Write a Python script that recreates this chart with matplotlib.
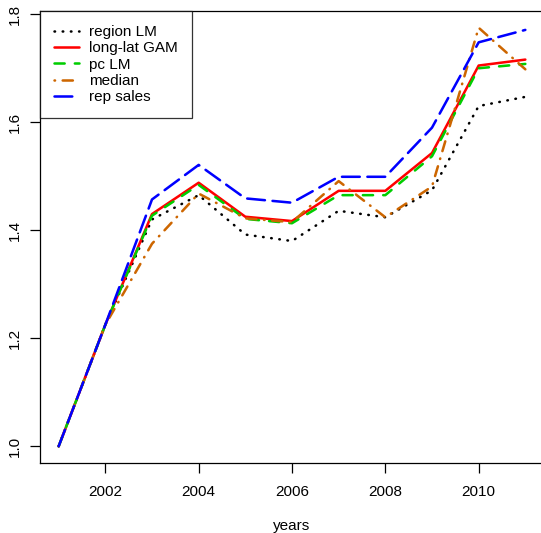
import matplotlib
matplotlib.use('Agg')
import matplotlib.pyplot as plt

plt.rcParams['font.family'] = ['Liberation Sans', 'DejaVu Sans']
plt.rcParams['lines.scale_dashes'] = False

years = [2001, 2002, 2003, 2004, 2005, 2006, 2007, 2008, 2009, 2010, 2011]
region_lm = [1.0, 1.225, 1.420, 1.465, 1.392, 1.380, 1.436, 1.424, 1.474, 1.630, 1.647]
longlat_gam = [1.0, 1.225, 1.430, 1.488, 1.425, 1.417, 1.473, 1.473, 1.543, 1.705, 1.716]
pc_lm = [1.0, 1.225, 1.427, 1.484, 1.421, 1.413, 1.465, 1.465, 1.537, 1.700, 1.708]
median = [1.0, 1.225, 1.375, 1.468, 1.422, 1.415, 1.491, 1.424, 1.481, 1.775, 1.698]
rep_sales = [1.0, 1.225, 1.457, 1.521, 1.459, 1.451, 1.499, 1.499, 1.590, 1.748, 1.771]

labels = ["region LM", "long-lat GAM", "pc LM", "median", "rep sales"]
series = [region_lm, longlat_gam, pc_lm, median, rep_sales]
colors = ["black", "#FF0000", "#00CD00", "#CD6600", "#0000FF"]

# R line types 3, 1, 2, 4, 5; one dash unit = line width
u = 1.83
styles = [(0, (0.4, 5.5)), '-', (0, (4 * u, 4 * u)),
          (0, (0.4, 5.5, 4 * u, 3 * u)), (0, (7 * u, 3 * u))]

fig = plt.figure(figsize=(5.41, 5.33), dpi=100)
ax = fig.add_axes([40/541, 70/533, 504/541, 452/533])

for vals, lab, col, ls in zip(series, labels, colors, styles):
    ax.plot(years, vals, color=col, linestyle=ls, linewidth=u, label=lab,
            dash_capstyle='round', solid_capstyle='round')

lo, hi = 1.0, max(max(s) for s in series)
pad = (hi - lo) * 0.04
ax.set_ylim(lo - pad, hi + pad)
ax.set_xlim(2001 - 0.4, 2011 + 0.4)
ax.set_xticks([2002, 2004, 2006, 2008, 2010])
ax.set_yticks([1.0, 1.2, 1.4, 1.6, 1.8])
ax.set_yticklabels(["1.0", "1.2", "1.4", "1.6", "1.8"], rotation=90, va='center')
ax.tick_params(length=7, width=0.9, labelsize=11, pad=9)
ax.tick_params(axis='y', pad=6)
ax.set_xlabel("years", fontsize=11, labelpad=14)
for sp in ax.spines.values():
    sp.set_linewidth(0.9)

leg = ax.legend(loc='upper left', bbox_to_anchor=(0, 1), fontsize=11,
                frameon=True, fancybox=False, edgecolor='black',
                borderaxespad=0, handlelength=1.65, handletextpad=0.65,
                labelspacing=0.15, borderpad=0.92)
leg.get_frame().set_linewidth(0.9)

fig.savefig("out.png", dpi=100)
